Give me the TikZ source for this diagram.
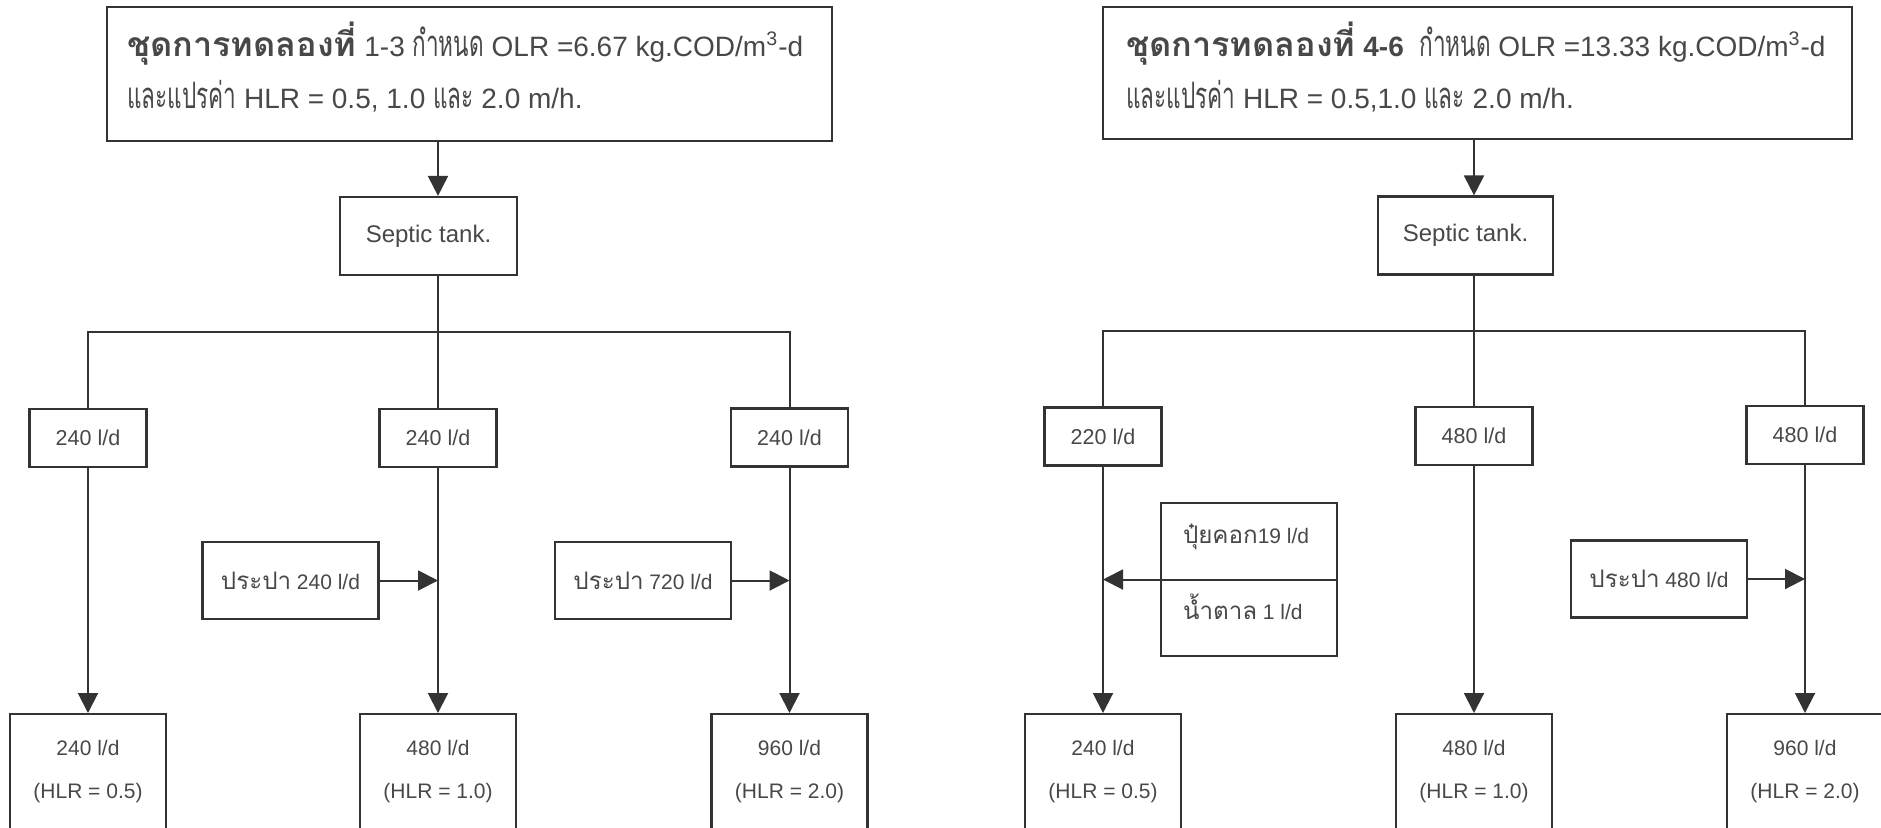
\documentclass[tikz,border=0pt]{standalone}
\usepackage{fontspec}
\setmainfont{Liberation Sans}
\newfontfamily\thai[Script=Thai,Scale=1.3,FakeStretch=0.62]{Loma}
\newfontfamily\thaibold[Script=Thai,Scale=1.2,FakeStretch=1.02]{Loma Bold}
\newfontfamily\thaismall[Script=Thai,Scale=1.15]{Loma}
\usetikzlibrary{arrows.meta}
\definecolor{ink}{HTML}{333333}
\definecolor{grey}{HTML}{484848}

\tikzset{
  box/.style={draw=ink,line width=1.1pt,inner sep=0pt,text=grey},
  flow/.style={box,minimum width=58.5pt,minimum height=29pt,font=\fontsize{10.75}{12}\selectfont},
  tap/.style={box,minimum width=88pt,minimum height=38.5pt,font=\fontsize{10.5}{12}\selectfont},
  outbox/.style={box,anchor=north,minimum width=78pt,minimum height=70pt},
  lbl/.style={inner sep=0pt,text=grey},
  head/.style={lbl,anchor=base west,font=\fontsize{14}{16}\selectfont},
  outtxt/.style={lbl,anchor=north,align=center,font=\fontsize{10.5}{21.5}\selectfont},
}

\begin{document}
\begin{tikzpicture}[x=0.5pt,y=-0.5pt,line width=1pt,draw=ink,>={Triangle[width=10pt,length=10pt]}]
\useasboundingbox (0,0) rectangle (1881,827);
\fill[white] (0,0) rectangle (1881,827);
\clip (0,0) rectangle (1881,827);

% set 1-3
\node[box,minimum width=362.5pt,minimum height=67pt] (top1) at (469.5,74) {};
\node[head] (top1a) at (126,56) {{\thaibold ชุดการทดลองที่} 1-3 {\thai กำหนด} OLR =6.67 kg.COD/m\textsuperscript{3}-d};
\node[head] (top1b) at (126,108) {{\thai และแปรค่า} HLR = 0.5, 1.0 {\thai และ} 2.0 m/h.};
\node[box,minimum width=88.5pt,minimum height=39pt,font=\fontsize{12}{14}\selectfont] (sep1) at (428.5,236) {Septic tank.};
\coordinate (bus1) at (438,332);
\node[flow] (fl11) at (88,438) {240 l/d};
\node[flow] (fl12) at (438,438) {240 l/d};
\node[flow] (fl13) at (789.5,437.5) {240 l/d};
\node[tap] (tap12) at (290.5,580.5) {{\thaismall ประปา} 240 l/d};
\node[tap] (tap13) at (643,580.5) {{\thaismall ประปา} 720 l/d};
\node[outbox] (out11) at (88,713) {};
\node[outbox] (out12) at (438,713) {};
\node[outbox] (out13) at (789.5,713) {};
\node[outtxt] (out11t) at ([yshift=-13pt]out11.north) {240 l/d\\(HLR = 0.5)};
\node[outtxt] (out12t) at ([yshift=-13pt]out12.north) {480 l/d\\(HLR = 1.0)};
\node[outtxt] (out13t) at ([yshift=-13pt]out13.north) {960 l/d\\(HLR = 2.0)};

\draw[->] (top1.south -| fl12) -- (sep1.north -| fl12);
\draw (sep1.south -| fl12) -- (fl12.north);
\draw (fl11.north) |- (bus1) -| (fl13.north);
\draw[->] (fl11.south) -- (out11.north);
\draw[->] (fl12.south) -- (out12.north);
\draw[->] (fl13.south) -- (out13.north);
\draw[->] (tap12.east) -- (tap12.east -| fl12);
\draw[->] (tap13.east) -- (tap13.east -| fl13);

% set 4-6
\node[box,minimum width=374.5pt,minimum height=66pt] (top2) at (1477.5,73) {};
\node[head] (top2a) at (1125,56) {{\thaibold ชุดการทดลองที่} \textbf{4-6}\ \ {\thai กำหนด} OLR =13.33 kg.COD/m\textsuperscript{3}-d};
\node[head] (top2b) at (1125,108) {{\thai และแปรค่า} HLR = 0.5,1.0 {\thai และ} 2.0 m/h.};
\node[box,minimum width=87.5pt,minimum height=39pt,font=\fontsize{12}{14}\selectfont] (sep2) at (1465.5,235.5) {Septic tank.};
\coordinate (bus2) at (1474,331);
\node[flow] (fl21) at (1103,436.5) {220 l/d};
\node[flow] (fl22) at (1474,436) {480 l/d};
\node[flow] (fl23) at (1805,435) {480 l/d};
\node[box,minimum width=88pt,minimum height=76.5pt] (fert) at (1249,579.5) {};
\node[lbl,anchor=base west,font=\fontsize{10.5}{12}\selectfont] (fertA) at (1182,543) {{\thaismall ปุ๋ยคอก}19 l/d};
\node[lbl,anchor=base west,font=\fontsize{10.5}{12}\selectfont] (fertB) at (1182,619) {{\thaismall น้ำตาล} 1 l/d};
\node[tap] (tap23) at (1659,579) {{\thaismall ประปา} 480 l/d};
\node[outbox] (out21) at (1103,713) {};
\node[outbox] (out22) at (1474,713) {};
\node[outbox] (out23) at (1805,713) {};
\node[outtxt] (out21t) at ([yshift=-13pt]out21.north) {240 l/d\\(HLR = 0.5)};
\node[outtxt] (out22t) at ([yshift=-13pt]out22.north) {480 l/d\\(HLR = 1.0)};
\node[outtxt] (out23t) at ([yshift=-13pt]out23.north) {960 l/d\\(HLR = 2.0)};

\draw[->] (top2.south -| fl22) -- (sep2.north -| fl22);
\draw (sep2.south -| fl22) -- (fl22.north);
\draw (fl21.north) |- (bus2) -| (fl23.north);
\draw[->] (fl21.south) -- (out21.north);
\draw[->] (fl22.south) -- (out22.north);
\draw[->] (fl23.south) -- (out23.north);
\draw[->] (fert.east) -- (fert.east -| fl21);
\draw[->] (tap23.east) -- (tap23.east -| fl23);
\end{tikzpicture}
\end{document}
